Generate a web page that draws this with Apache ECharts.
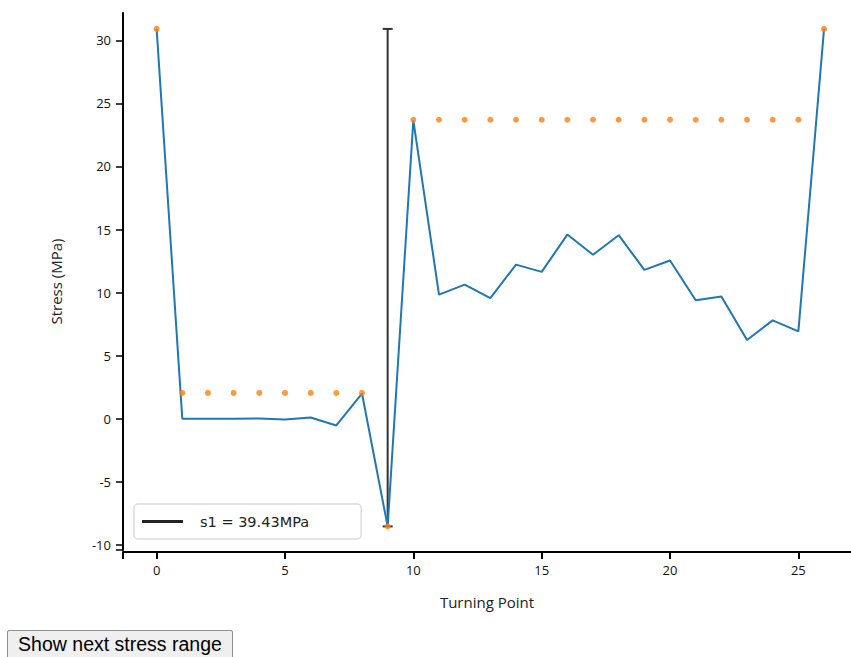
<!DOCTYPE html>
<html>
<head>
<meta charset="utf-8">
<script src="https://cdn.jsdelivr.net/npm/echarts@6/dist/echarts.min.js"></script>
<style>
  html, body { margin: 0; padding: 0; background: #fff; }
  #chart { position: absolute; left: 0; top: 0; width: 851px; height: 625px; }
  #btn { position: absolute; left: 7px; top: 630px; width: 226px; height: 29px;
         font: 19.5px "Liberation Sans", Arial, sans-serif; background: #efefef;
         border: 1px solid #8f8f8f; border-radius: 2px; padding: 0; color: #000; }
</style>
</head>
<body>
<div id="chart"></div>
<button id="btn">Show next stress range</button>
<script>
// ---- data ----
const turningPoints = [0,1,2,3,4,5,6,7,8,9,10,11,12,13,14,15,16,17,18,19,20,21,22,23,24,25,26];
const stress = [30.9, 0, 0, 0, 0.02, -0.05, 0.1, -0.53, 2.0, -8.53, 23.65, 9.84, 10.63, 9.57, 12.22, 11.64, 14.6, 13.0, 14.55, 11.8, 12.54, 9.4, 9.7, 6.24, 7.8, 6.93, 30.9];
const envelope = [30.9, 2.05, 2.05, 2.05, 2.05, 2.05, 2.05, 2.05, 2.05, -8.53, 23.7, 23.7, 23.7, 23.7, 23.7, 23.7, 23.7, 23.7, 23.7, 23.7, 23.7, 23.7, 23.7, 23.7, 23.7, 23.7, 30.9];
const rangeName = 's1 = 39.43MPa';
const rangeX = 9;
const rangeLow = -8.53;
const rangeHigh = 30.9;
const xTicks = [0, 5, 10, 15, 20, 25];
const yTicks = [-10, -5, 0, 5, 10, 15, 20, 25, 30];

const chart = echarts.init(document.getElementById('chart'), null, { renderer: 'svg' });
const axisFont = '"Open Sans", "Noto Sans", sans-serif';
chart.setOption({
  animation: false,
  grid: { left: 123, right: 0, top: 13, bottom: 75, containLabel: false },
  legend: {
    left: 134, top: 504,
    orient: 'horizontal',
    padding: [10, 52, 10, 8],
    backgroundColor: '#fff', borderColor: '#dcdcdc', borderWidth: 1.5, borderRadius: 4,
    itemWidth: 41, itemHeight: 3, itemGap: 0,
    textStyle: { fontFamily: 'DejaVu Sans, Verdana, sans-serif', fontSize: 14.5, color: '#222', padding: [0, 0, 0, 12] },
    data: [{ name: rangeName, icon: 'rect', itemStyle: { color: '#222' } }],
    selectedMode: false
  },
  xAxis: {
    type: 'value', min: -1.31, max: 27.05, offset: 2,
    name: 'Turning Point', nameLocation: 'middle', nameGap: 42,
    nameTextStyle: { fontFamily: axisFont, fontSize: 15, color: '#222' },
    axisLine: { show: true, onZero: false, lineStyle: { color: '#000', width: 2 } },
    axisTick: { show: true, length: 7, lineStyle: { color: '#000', width: 2 }, customValues: [-1.31].concat(xTicks) },
    axisLabel: { fontFamily: axisFont, fontSize: 13, color: '#111', margin: 11, customValues: xTicks },
    splitLine: { show: false }
  },
  yAxis: {
    type: 'value', min: -10.4, max: 32.16,
    name: 'Stress (MPa)', nameLocation: 'middle', nameGap: 60, nameRotate: 90,
    nameTextStyle: { fontFamily: axisFont, fontSize: 15, color: '#222' },
    axisLine: { show: true, onZero: false, lineStyle: { color: '#000', width: 2 } },
    axisTick: { show: true, length: 7, lineStyle: { color: '#000', width: 1.5 }, customValues: [-10.4].concat(yTicks) },
    axisLabel: { fontFamily: axisFont, fontSize: 13, color: '#111', margin: 12, customValues: yTicks },
    splitLine: { show: false }
  },
  series: [
    {
      name: rangeName, type: 'line',
      data: [[rangeX, rangeLow], [rangeX, rangeHigh]],
      lineStyle: { color: '#333', width: 2 },
      symbol: 'rect', symbolSize: [10, 2], showSymbol: true,
      itemStyle: { color: '#333' }, z: 1, silent: true
    },
    {
      name: 'stress', type: 'line',
      data: turningPoints.map((t, i) => [t, stress[i]]),
      lineStyle: { color: '#1f77b4', width: 2 },
      showSymbol: false, symbol: 'none', z: 2, silent: true
    },
    {
      name: 'envelope', type: 'scatter',
      data: turningPoints.map((t, i) => [t, envelope[i]]),
      symbol: 'circle', symbolSize: 6,
      itemStyle: { color: '#ff7f0e' }, z: 3, silent: true
    }
  ]
});
</script>
</body>
</html>
